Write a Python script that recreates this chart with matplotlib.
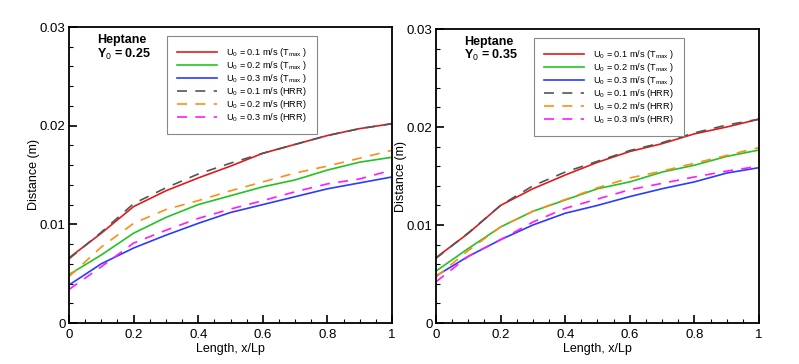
import matplotlib
matplotlib.use('Agg')
import matplotlib.pyplot as plt
from matplotlib.ticker import MultipleLocator

plt.rcParams['font.family'] = ['Liberation Sans', 'DejaVu Sans']
plt.rcParams['mathtext.fontset'] = 'custom'
plt.rcParams['mathtext.rm'] = 'Liberation Sans'
plt.rcParams['mathtext.bf'] = 'Liberation Sans:bold'

x = [0, 0.1, 0.2, 0.3, 0.4, 0.5, 0.6, 0.7, 0.8, 0.9, 1.0]

# Y0 = 0.25 (values in mm, converted below)
l_t01 = [6.6, 9.1, 11.8, 13.4, 14.7, 15.9, 17.2, 18.1, 19.0, 19.7, 20.2]
l_t02 = [4.9, 6.9, 9.1, 10.7, 12.0, 12.9, 13.8, 14.5, 15.5, 16.3, 16.8]
l_t03 = [3.85, 6.0, 7.6, 8.9, 10.1, 11.2, 12.0, 12.8, 13.6, 14.2, 14.8]
l_h01 = [6.5, 9.2, 12.1, 13.7, 15.1, 16.2, 17.2, 18.1, 19.0, 19.7, 20.2]
l_h02 = [4.7, 7.7, 10.1, 11.5, 12.4, 13.4, 14.3, 15.2, 15.9, 16.7, 17.5]
l_h03 = [3.4, 5.7, 8.1, 9.4, 10.6, 11.55, 12.4, 13.3, 14.1, 14.6, 15.5]

# Y0 = 0.35
r_t01 = [6.67, 9.15, 12.0, 13.7, 15.1, 16.4, 17.5, 18.3, 19.3, 20.0, 20.8]
r_t02 = [5.3, 7.6, 9.8, 11.4, 12.55, 13.7, 14.4, 15.4, 16.1, 17.0, 17.65]
r_t03 = [4.8, 6.8, 8.5, 10.0, 11.2, 12.0, 12.9, 13.7, 14.4, 15.3, 15.85]
r_h01 = [6.6, 9.2, 12.0, 14.0, 15.4, 16.5, 17.6, 18.4, 19.4, 20.2, 20.8]
r_h02 = [4.7, 7.4, 9.8, 11.4, 12.6, 13.8, 14.8, 15.5, 16.3, 17.1, 17.9]
r_h03 = [4.2, 6.8, 8.5, 10.3, 11.7, 12.65, 13.6, 14.25, 14.9, 15.5, 16.0]

labels = [r'U$_0$ = 0.1 m/s (T$_{\rm max}$ )',
          r'U$_0$ = 0.2 m/s (T$_{\rm max}$ )',
          r'U$_0$ = 0.3 m/s (T$_{\rm max}$ )',
          r'U$_0$ = 0.1 m/s (HRR)',
          r'U$_0$ = 0.2 m/s (HRR)',
          r'U$_0$ = 0.3 m/s (HRR)']
colors = ['#e31a1c', '#22c322', '#2b3bff', '#555555', '#ff8c1a', '#ff1aff']
styles = ['-', '-', '-', (0, (6, 5)), (0, (6, 5)), (0, (6, 5))]

panels = [
    ([69, 41, 323, 296], 'Heptane\n' + r'Y$_0$ = 0.25', [l_t01, l_t02, l_t03, l_h01, l_h02, l_h03]),
    ([436, 41, 323, 294], 'Heptane\n' + r'Y$_0$ = 0.35', [r_t01, r_t02, r_t03, r_h01, r_h02, r_h03]),
]

W, H = 799, 364
fig = plt.figure(figsize=(W / 100, H / 100), dpi=100)

for (px, pb, pw, ph), title, series in panels:
    ax = fig.add_axes([px / W, pb / H, pw / W, ph / H])
    for ys, c, ls, lab in zip(series, colors, styles, labels):
        ax.plot(x, [v / 1000 for v in ys], color=c, ls=ls, lw=1.2, label=lab)
    ax.set_xlim(0, 1)
    ax.set_ylim(0, 0.03)
    ax.xaxis.set_minor_locator(MultipleLocator(0.05))
    ax.yaxis.set_minor_locator(MultipleLocator(0.002))
    ax.set_xticks([0, 0.2, 0.4, 0.6, 0.8, 1.0])
    ax.set_xticklabels(['0', '0.2', '0.4', '0.6', '0.8', '1'])
    ax.set_yticks([0, 0.01, 0.02, 0.03])
    ax.set_yticklabels(['0', '0.01', '0.02', '0.03'])
    ax.tick_params(which='both', direction='in', top=False, right=False, labelsize=9.5)
    ax.tick_params(axis='y', pad=2.5)
    ax.tick_params(axis='x', pad=4)
    ax.tick_params(which='major', length=6, width=1.2)
    ax.tick_params(which='minor', length=3, width=0.8)
    for s in ax.spines.values():
        s.set_linewidth(1.3)
    ax.set_xlabel('Length, x/Lp', fontsize=9, labelpad=2)
    ax.set_ylabel('Distance (m)', fontsize=9)
    ax.yaxis.set_label_coords(-0.09, 0.5)
    ax.text(0.087, 0.975, title, transform=ax.transAxes, fontsize=9,
            fontweight='bold', va='top', ha='left', linespacing=1.0)
    leg = ax.legend(loc='upper left', bbox_to_anchor=(0.303, 0.97), fontsize=6.6,
                    handlelength=4.4, handletextpad=0.9, labelspacing=0.0,
                    borderpad=1.1, borderaxespad=0, fancybox=False, framealpha=1,
                    edgecolor='#888888')
    leg.get_frame().set_linewidth(0.8)

fig.savefig('out.png', dpi=100)
